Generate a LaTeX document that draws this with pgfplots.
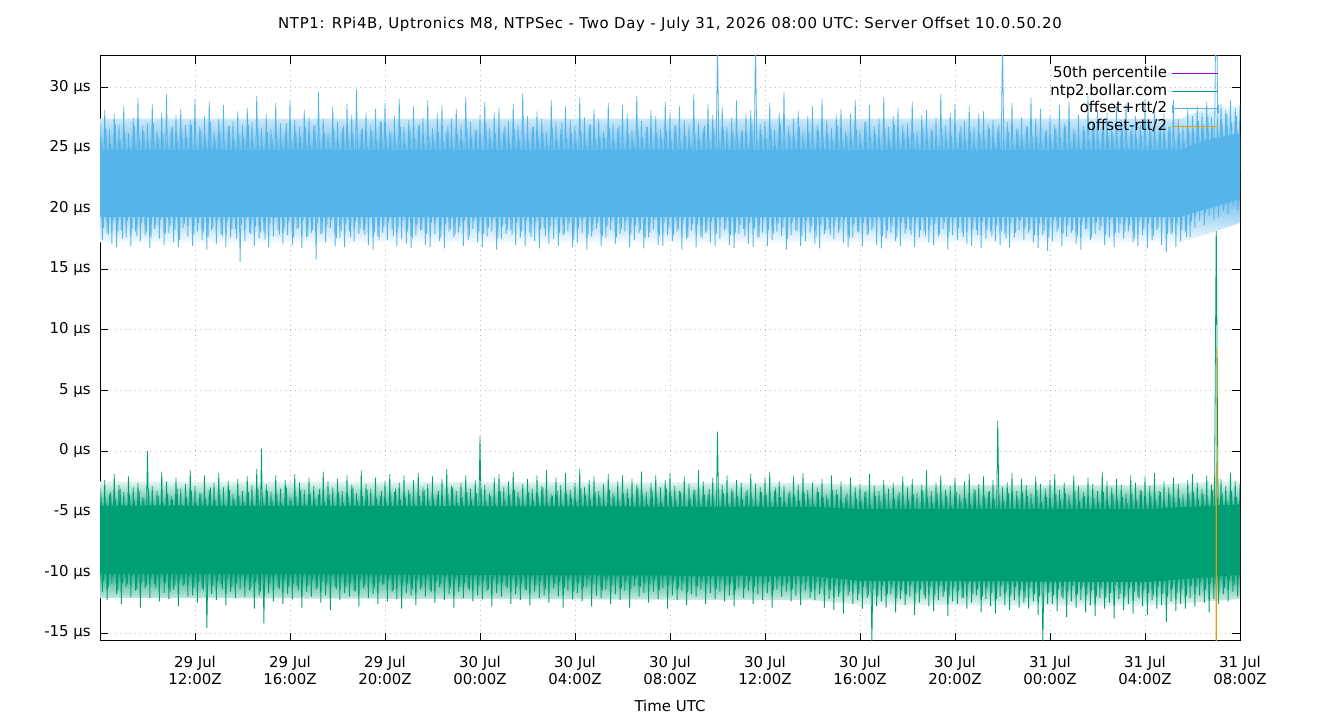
\documentclass[border=0pt]{standalone}
\usepackage{pgfplots}
\usepackage{pgfplotstable}
\pgfplotsset{compat=1.18}
\usepackage{fontspec}
\setmainfont{DejaVu Sans}

\definecolor{gpPurple}{RGB}{148,0,211}
\definecolor{gpGreen}{RGB}{0,158,115}
\definecolor{gpBlue}{RGB}{86,180,233}
\definecolor{gpOrange}{RGB}{230,159,0}

% legend sample with end caps, as for an error-bar series
\pgfplotsset{capsample/.style={legend image code/.code={
    \draw[gpBlue, line width=0.8bp] (0bp,0bp) -- (46bp,0bp);
    \draw[gpBlue, line width=0.8bp] (0bp,-4bp) -- (0bp,4bp);
    \draw[gpBlue, line width=0.8bp] (46bp,-4bp) -- (46bp,4bp);}}}

% offset+rtt/2 (us), samples every 6 minutes from 29 Jul 08:00Z
\pgfplotstableread[row sep=\\, header=false]{
27.2\\17.4\\28.1\\18.0\\26.5\\17.1\\27.8\\16.8\\26.9\\18.2\\
28.4\\17.6\\26.2\\16.9\\27.5\\18.1\\29.1\\17.3\\26.8\\17.8\\
27.0\\16.7\\28.6\\18.3\\26.4\\17.5\\27.9\\17.0\\29.4\\18.0\\
26.6\\17.2\\27.7\\16.8\\28.2\\18.4\\26.9\\17.7\\27.3\\16.9\\
29.0\\18.1\\26.7\\17.4\\27.6\\16.6\\28.8\\18.2\\26.3\\17.1\\
27.4\\17.9\\28.5\\16.8\\26.8\\17.6\\27.2\\18.3\\28.0\\15.6\\
26.9\\17.3\\28.3\\18.0\\27.1\\16.9\\29.3\\17.5\\26.6\\18.1\\
27.8\\16.8\\26.5\\17.7\\28.7\\18.2\\27.0\\17.1\\26.4\\17.8\\
28.9\\17.0\\27.3\\18.3\\26.7\\16.7\\28.1\\17.6\\27.5\\18.0\\
26.8\\15.8\\29.6\\17.9\\27.4\\17.2\\26.2\\18.4\\28.4\\16.9\\
27.1\\17.6\\26.6\\16.8\\28.6\\18.1\\27.7\\17.3\\29.8\\17.9\\
26.5\\18.2\\27.9\\17.0\\26.9\\16.6\\28.2\\17.7\\27.2\\18.0\\
28.7\\17.4\\26.4\\18.3\\27.6\\16.9\\29.0\\17.5\\26.7\\17.1\\
27.3\\16.7\\28.4\\17.8\\26.8\\18.2\\27.5\\17.0\\28.9\\16.8\\
26.6\\17.9\\27.8\\17.3\\28.5\\16.7\\26.3\\18.1\\27.4\\17.6\\
28.2\\18.0\\26.9\\16.9\\29.2\\17.4\\27.1\\18.3\\26.5\\17.2\\
27.7\\16.8\\28.8\\17.7\\26.6\\18.1\\27.9\\16.6\\28.3\\17.5\\
26.4\\17.9\\27.2\\18.2\\28.6\\17.0\\26.8\\17.6\\29.5\\16.9\\
27.6\\18.0\\26.7\\17.3\\28.0\\16.7\\27.4\\18.4\\26.2\\17.1\\
28.9\\17.5\\27.1\\16.9\\26.5\\17.8\\28.4\\18.1\\27.3\\16.8\\
26.8\\17.2\\29.1\\18.0\\27.5\\16.6\\26.9\\17.7\\28.2\\18.3\\
27.4\\16.9\\26.3\\17.6\\28.7\\18.2\\27.0\\17.1\\26.6\\17.9\\
28.5\\18.1\\27.8\\16.8\\26.4\\17.4\\29.3\\18.0\\27.2\\16.7\\
26.7\\17.6\\28.1\\18.3\\27.6\\17.0\\26.5\\16.9\\28.8\\17.8\\
27.9\\17.3\\26.8\\18.1\\28.4\\16.6\\27.3\\17.5\\26.9\\18.2\\
29.4\\16.8\\27.0\\17.7\\26.6\\18.0\\28.6\\17.2\\27.7\\16.9\\
34.0\\17.5\\28.3\\18.2\\26.7\\17.0\\27.5\\16.7\\28.9\\17.9\\
26.4\\18.3\\27.8\\17.1\\28.1\\16.8\\34.0\\17.6\\26.9\\18.0\\
27.2\\16.9\\28.7\\17.4\\26.5\\18.1\\27.9\\17.7\\29.6\\16.6\\
26.8\\17.8\\27.4\\18.2\\28.0\\16.9\\26.3\\17.3\\27.6\\18.0\\
28.4\\17.1\\26.9\\16.7\\29.0\\17.9\\27.3\\18.3\\26.6\\17.5\\
27.7\\18.0\\28.2\\17.2\\26.4\\16.8\\27.8\\17.6\\28.9\\18.1\\
26.5\\16.9\\27.1\\17.8\\28.5\\18.2\\26.8\\17.0\\27.4\\16.7\\
29.2\\17.5\\26.7\\18.0\\27.6\\17.3\\28.3\\16.9\\26.9\\17.9\\
27.0\\18.2\\28.8\\16.8\\26.4\\17.6\\27.7\\18.1\\28.1\\17.2\\
26.6\\17.0\\27.5\\17.7\\29.4\\18.3\\26.8\\16.6\\27.9\\17.8\\
28.6\\17.4\\26.3\\18.0\\27.2\\17.1\\28.4\\16.9\\26.7\\18.2\\
27.8\\16.7\\28.0\\17.5\\26.9\\18.1\\27.3\\17.3\\26.5\\17.0\\
34.0\\17.9\\27.1\\16.8\\28.7\\17.6\\26.6\\18.2\\27.5\\17.4\\
26.8\\18.0\\29.1\\17.2\\27.4\\16.7\\28.2\\17.8\\26.4\\16.5\\
27.6\\17.3\\26.9\\18.1\\28.5\\16.9\\27.0\\17.7\\28.8\\18.0\\
26.5\\17.1\\27.7\\16.6\\26.8\\18.3\\29.3\\17.4\\27.2\\17.9\\
28.1\\18.2\\26.6\\17.0\\27.9\\17.6\\26.7\\16.8\\28.4\\18.0\\
27.3\\17.5\\28.6\\18.1\\26.4\\17.2\\27.6\\16.9\\26.9\\17.8\\
29.0\\16.7\\27.1\\17.4\\28.3\\18.2\\26.5\\17.0\\27.8\\16.4\\
26.7\\17.9\\28.9\\16.8\\27.4\\17.3\\26.8\\18.1\\28.2\\17.6\\
27.6\\18.4\\28.4\\19.0\\27.9\\18.6\\28.8\\19.4\\27.5\\19.1\\
40.0\\19.3\\28.6\\19.8\\28.1\\19.5\\28.9\\20.2\\28.3\\19.9\\
28.5\\
}\blueA

% offset+rtt/2 (us), samples 3 minutes later
\pgfplotstableread[row sep=\\, header=false]{
25.9\\18.4\\26.6\\17.8\\25.3\\18.9\\26.9\\18.1\\25.6\\17.5\\
26.2\\19.0\\25.1\\18.3\\26.8\\17.7\\25.7\\18.8\\26.4\\18.0\\
25.4\\17.6\\27.0\\18.6\\25.8\\19.1\\26.1\\17.9\\25.2\\18.5\\
26.7\\18.2\\25.5\\17.4\\26.3\\18.7\\25.9\\19.2\\26.9\\17.8\\
25.0\\18.8\\26.5\\18.0\\25.7\\17.6\\27.1\\18.4\\25.6\\19.0\\
26.4\\17.7\\25.2\\18.9\\26.8\\18.2\\25.5\\17.5\\26.1\\18.6\\
25.8\\19.1\\26.9\\17.9\\25.3\\18.5\\26.6\\18.0\\25.1\\17.4\\
26.3\\18.7\\25.7\\19.2\\26.0\\17.8\\25.4\\18.3\\27.0\\18.9\\
25.6\\17.6\\26.4\\18.4\\25.9\\19.0\\26.7\\17.7\\25.2\\18.2\\
26.9\\18.8\\25.5\\17.9\\26.2\\18.6\\25.0\\19.1\\26.5\\17.5\\
25.3\\18.1\\26.8\\18.7\\25.7\\17.6\\26.1\\18.9\\25.8\\18.3\\
26.6\\17.8\\25.1\\19.2\\26.4\\18.0\\25.6\\17.4\\27.1\\18.5\\
25.9\\18.9\\26.2\\17.7\\25.4\\18.4\\26.7\\19.0\\25.2\\18.1\\
26.5\\17.5\\25.8\\18.6\\26.9\\18.2\\25.3\\17.9\\26.0\\18.8\\
25.7\\19.1\\26.3\\17.6\\25.5\\18.7\\26.8\\18.3\\25.1\\17.8\\
26.1\\18.5\\25.6\\19.0\\26.6\\17.7\\25.9\\18.9\\26.4\\18.0\\
25.2\\17.9\\27.0\\18.4\\25.8\\19.2\\26.2\\17.5\\25.5\\18.6\\
26.8\\18.2\\25.3\\17.8\\26.5\\18.8\\25.7\\18.1\\26.0\\19.0\\
25.4\\17.6\\26.7\\18.9\\25.9\\18.3\\26.3\\17.7\\25.1\\18.5\\
26.6\\19.1\\25.6\\18.0\\27.1\\17.9\\25.8\\18.7\\26.2\\17.4\\
25.5\\18.4\\26.4\\19.2\\25.2\\17.8\\26.9\\18.1\\25.7\\18.8\\
26.0\\17.7\\25.8\\18.5\\26.6\\19.0\\25.4\\17.6\\26.8\\18.3\\
25.3\\18.9\\26.1\\17.9\\25.6\\18.6\\26.5\\18.2\\25.9\\17.5\\
26.7\\18.0\\25.0\\19.1\\26.3\\17.7\\25.8\\18.8\\26.4\\18.4\\
25.6\\17.8\\26.9\\18.3\\25.4\\19.0\\26.0\\17.6\\25.2\\18.7\\
26.2\\18.6\\25.7\\17.5\\26.8\\18.1\\25.5\\18.9\\26.6\\17.9\\
25.8\\19.2\\26.5\\18.4\\25.1\\17.8\\26.3\\18.0\\25.9\\18.6\\
26.4\\17.7\\25.3\\18.8\\27.0\\18.3\\25.6\\17.6\\26.1\\19.1\\
25.7\\18.2\\26.6\\17.9\\25.2\\18.7\\26.9\\18.4\\25.5\\17.5\\
26.0\\18.9\\25.8\\18.1\\26.7\\17.7\\25.4\\19.0\\26.3\\18.5\\
25.1\\17.6\\26.4\\18.6\\25.9\\18.2\\26.2\\17.8\\25.6\\18.9\\
26.8\\18.3\\25.5\\19.1\\26.0\\17.5\\25.7\\18.7\\26.5\\18.0\\
25.3\\18.8\\27.1\\17.9\\25.8\\18.4\\26.1\\19.2\\25.2\\17.7\\
26.6\\18.1\\25.6\\18.5\\26.9\\17.6\\25.4\\18.9\\26.3\\18.3\\
25.9\\17.8\\26.2\\19.0\\25.3\\18.2\\26.7\\17.7\\25.7\\18.6\\
26.4\\18.7\\25.1\\17.9\\26.5\\18.8\\25.8\\18.0\\26.0\\19.1\\
25.5\\18.4\\26.8\\17.6\\25.6\\19.2\\26.2\\18.3\\25.0\\17.8\\
26.1\\18.9\\25.7\\18.2\\26.6\\17.7\\25.4\\18.6\\26.9\\18.1\\
25.8\\17.5\\26.3\\18.8\\25.2\\18.0\\26.5\\19.0\\25.6\\18.4\\
26.7\\18.2\\25.9\\17.8\\26.0\\18.7\\25.3\\18.1\\26.4\\17.6\\
25.4\\19.0\\26.6\\18.4\\25.8\\17.9\\26.8\\18.6\\25.5\\18.2\\
26.2\\17.7\\25.1\\18.9\\26.4\\18.3\\25.7\\17.6\\27.0\\18.8\\
25.6\\18.5\\26.9\\17.8\\25.9\\19.1\\26.1\\18.0\\25.3\\18.7\\
26.5\\18.1\\25.4\\18.6\\26.7\\17.5\\25.8\\18.9\\26.0\\18.3\\
25.2\\18.8\\26.3\\17.7\\25.7\\18.4\\26.6\\19.2\\25.5\\17.9\\
26.8\\18.0\\25.6\\18.7\\26.2\\18.2\\25.4\\17.6\\26.4\\18.9\\
26.6\\19.6\\27.2\\20.1\\26.9\\19.7\\27.6\\20.4\\26.8\\20.0\\
27.4\\20.6\\26.9\\20.2\\27.8\\20.8\\27.1\\20.5\\27.6\\21.0\\
27.2\\
}\blueB

% ntp2.bollar.com offset (us), samples every 6 minutes from 29 Jul 08:00Z
\pgfplotstableread[row sep=\\, header=false]{
-3.1\\-11.6\\-2.4\\-12.3\\-3.6\\-10.9\\-1.9\\-11.8\\-2.8\\-12.6\\
-3.4\\-11.2\\-2.1\\-12.0\\-3.0\\-11.5\\-2.6\\-12.9\\-3.8\\-11.3\\
0.0\\-12.1\\-2.9\\-11.0\\-3.3\\-12.4\\-1.7\\-11.7\\-2.5\\-12.2\\
-3.7\\-11.4\\-2.2\\-12.8\\-3.1\\-11.1\\-2.7\\-12.0\\-1.6\\-11.9\\
-2.9\\-12.5\\-3.5\\-11.3\\-2.0\\-14.6\\-3.2\\-11.8\\-2.6\\-12.3\\
-1.8\\-11.0\\-3.0\\-12.7\\-2.5\\-11.6\\-3.6\\-12.1\\-2.3\\-11.4\\
-3.3\\-12.0\\-2.1\\-11.5\\-2.8\\-13.0\\-1.5\\-11.9\\0.2\\-14.2\\
-2.7\\-11.7\\-3.4\\-12.4\\-2.0\\-11.2\\-3.1\\-12.6\\-2.4\\-11.8\\
-3.8\\-12.2\\-1.9\\-11.1\\-2.6\\-12.9\\-3.2\\-11.6\\-2.2\\-12.0\\
-2.9\\-11.4\\-3.6\\-12.5\\-1.7\\-11.9\\-2.5\\-13.1\\-3.0\\-11.2\\
-2.3\\-12.3\\-3.3\\-11.7\\-2.0\\-12.0\\-2.8\\-11.5\\-3.5\\-12.8\\
-1.6\\-11.3\\-2.7\\-12.1\\-3.1\\-11.8\\-2.2\\-12.6\\-3.7\\-11.0\\
-2.5\\-12.4\\-1.9\\-11.6\\-3.4\\-12.2\\-2.6\\-13.0\\-2.0\\-11.7\\
-3.2\\-11.9\\-2.4\\-12.7\\-1.8\\-11.4\\-3.0\\-12.0\\-2.7\\-11.5\\
-2.1\\-12.5\\-3.6\\-11.2\\-2.3\\-12.3\\-1.5\\-11.8\\-2.9\\-12.9\\
-3.3\\-11.6\\-2.6\\-12.1\\-2.0\\-11.3\\-3.1\\-12.4\\-2.4\\-11.9\\
1.2\\-12.2\\-2.8\\-11.5\\-3.5\\-12.8\\-2.2\\-11.7\\-1.9\\-12.0\\
-3.0\\-11.1\\-2.5\\-12.6\\-1.7\\-11.8\\-3.4\\-12.3\\-2.7\\-11.4\\
-2.3\\-12.7\\-3.1\\-11.6\\-2.0\\-12.1\\-2.9\\-11.9\\-1.6\\-12.5\\
-3.6\\-11.3\\-2.2\\-12.0\\-2.8\\-12.9\\-1.8\\-11.5\\-3.2\\-12.2\\
-2.6\\-11.7\\-1.5\\-12.4\\-3.0\\-11.2\\-2.4\\-12.8\\-2.1\\-11.9\\
-3.3\\-12.1\\-2.7\\-11.4\\-1.9\\-12.6\\-3.5\\-11.8\\-2.5\\-12.3\\
-2.0\\-11.5\\-3.1\\-12.9\\-2.3\\-11.1\\-2.8\\-12.0\\-1.7\\-11.7\\
-3.4\\-12.5\\-2.6\\-11.6\\-2.0\\-12.2\\-3.0\\-11.3\\-2.4\\-13.0\\
-1.8\\-11.9\\-2.9\\-12.3\\-3.3\\-11.5\\-2.1\\-12.7\\-2.7\\-11.8\\
-3.2\\-12.0\\-1.6\\-11.4\\-2.5\\-12.6\\-3.6\\-11.7\\-2.2\\-12.2\\
1.6\\-11.6\\-2.8\\-12.4\\-2.0\\-11.9\\-3.1\\-12.8\\-2.4\\-11.3\\
-2.6\\-12.1\\-3.4\\-11.5\\-1.9\\-12.6\\-2.7\\-11.8\\-3.0\\-12.3\\
-2.2\\-11.7\\-1.7\\-12.9\\-3.3\\-11.4\\-2.5\\-12.0\\-2.9\\-11.6\\
-3.5\\-12.4\\-2.1\\-11.9\\-2.8\\-12.7\\-1.8\\-11.5\\-3.2\\-12.1\\
-2.6\\-12.3\\-3.0\\-11.8\\-2.3\\-12.9\\-3.6\\-12.2\\-2.0\\-13.1\\
-3.2\\-12.0\\-2.5\\-13.4\\-3.8\\-11.9\\-2.2\\-12.6\\-3.0\\-12.3\\
-2.7\\-13.0\\-3.4\\-12.1\\-1.9\\-15.9\\-2.9\\-12.8\\-3.3\\-12.4\\
-2.4\\-12.9\\-3.1\\-11.8\\-2.6\\-13.3\\-3.7\\-12.2\\-2.1\\-12.7\\
-3.0\\-12.0\\-2.3\\-13.5\\-3.5\\-12.5\\-2.8\\-11.9\\-1.6\\-12.8\\
-3.3\\-13.2\\-2.6\\-12.3\\-2.0\\-12.0\\-3.2\\-13.6\\-2.9\\-12.4\\
-2.2\\-12.6\\-3.6\\-12.1\\-2.5\\-13.0\\-1.9\\-12.5\\-3.1\\-11.9\\
-2.7\\-13.3\\-2.1\\-12.2\\-3.4\\-12.8\\-2.4\\-13.4\\2.5\\-12.0\\
-3.0\\-12.7\\-2.6\\-13.1\\-1.8\\-12.3\\-3.3\\-12.9\\-2.3\\-12.5\\
-2.8\\-13.0\\-3.5\\-12.4\\-2.1\\-13.5\\-2.7\\-15.9\\-3.1\\-12.6\\
-2.4\\-12.6\\-1.9\\-13.2\\-3.2\\-12.0\\-2.6\\-13.7\\-3.6\\-12.4\\
-2.0\\-12.9\\-2.9\\-12.3\\-3.4\\-13.3\\-2.2\\-12.7\\-2.7\\-13.6\\
-3.3\\-12.1\\-1.7\\-13.0\\-2.5\\-12.5\\-3.0\\-13.8\\-2.3\\-12.2\\
-2.8\\-13.1\\-3.5\\-12.6\\-2.0\\-13.4\\-2.6\\-12.0\\-3.2\\-12.8\\
-2.1\\-13.5\\-2.9\\-12.3\\-1.8\\-13.0\\-3.3\\-12.7\\-2.5\\-14.1\\
-3.0\\-12.4\\-2.2\\-13.2\\-2.7\\-12.6\\-3.6\\-13.0\\-2.4\\-12.1\\
-1.9\\-12.8\\-2.6\\-11.9\\-3.1\\-12.5\\-2.0\\-13.3\\-2.8\\-12.2\\
19.0\\-12.6\\-2.3\\-11.8\\-2.9\\-12.4\\-1.8\\-11.6\\-2.5\\-12.0\\
-2.7\\
}\greenA

% ntp2.bollar.com offset (us), samples 3 minutes later
\pgfplotstableread[row sep=\\, header=false]{
-3.8\\-10.7\\-4.3\\-11.2\\-3.4\\-10.4\\-4.0\\-11.5\\-3.1\\-10.9\\
-4.5\\-11.0\\-3.6\\-10.3\\-4.1\\-11.4\\-3.3\\-10.8\\-3.9\\-11.1\\
-3.2\\-10.5\\-4.4\\-11.3\\-3.7\\-10.1\\-4.2\\-10.9\\-3.5\\-11.6\\
-4.0\\-11.1\\-3.1\\-10.6\\-4.6\\-11.0\\-3.8\\-10.4\\-3.3\\-11.3\\
-4.3\\-10.8\\-3.5\\-11.5\\-3.9\\-10.2\\-3.0\\-11.1\\-4.1\\-10.7\\
-3.6\\-11.4\\-4.4\\-10.5\\-3.2\\-11.2\\-4.0\\-10.9\\-3.7\\-10.3\\
-4.2\\-10.6\\-3.4\\-11.3\\-4.5\\-10.8\\-3.1\\-11.6\\-3.8\\-10.4\\
-3.3\\-11.0\\-4.1\\-10.2\\-3.6\\-11.4\\-4.3\\-10.7\\-3.0\\-11.2\\
-4.0\\-10.9\\-3.7\\-11.5\\-3.2\\-10.4\\-4.4\\-11.1\\-3.5\\-10.6\\
-3.9\\-11.3\\-3.1\\-10.8\\-4.2\\-11.0\\-3.6\\-10.3\\-4.6\\-11.4\\
-3.4\\-10.5\\-4.3\\-11.2\\-3.8\\-10.9\\-3.0\\-11.6\\-4.1\\-10.7\\
-3.7\\-11.1\\-3.2\\-10.4\\-4.5\\-11.3\\-3.9\\-10.8\\-3.3\\-11.0\\
-4.2\\-10.6\\-3.6\\-11.5\\-3.1\\-10.2\\-4.0\\-11.1\\-3.8\\-10.9\\
-3.5\\-11.4\\-4.4\\-10.7\\-3.7\\-11.2\\-3.2\\-10.5\\-4.1\\-11.6\\
-3.9\\-10.8\\-3.3\\-11.0\\-4.6\\-10.4\\-3.6\\-11.3\\-3.0\\-10.6\\
-4.3\\-11.2\\-3.8\\-10.9\\-3.4\\-11.5\\-4.0\\-10.3\\-3.5\\-11.1\\
-3.1\\-10.7\\-4.2\\-11.4\\-3.7\\-10.6\\-4.4\\-11.0\\-3.3\\-10.8\\
-4.0\\-11.3\\-3.6\\-10.5\\-3.2\\-11.2\\-3.9\\-10.9\\-4.5\\-11.5\\
-3.4\\-10.4\\-4.1\\-11.1\\-3.8\\-10.7\\-3.0\\-11.4\\-4.3\\-10.2\\
-3.7\\-11.0\\-3.3\\-10.8\\-4.4\\-11.3\\-3.5\\-10.5\\-3.9\\-11.6\\
-4.2\\-10.9\\-3.1\\-11.2\\-3.6\\-10.6\\-4.0\\-11.0\\-3.4\\-10.3\\
-3.8\\-11.5\\-4.5\\-10.7\\-3.2\\-11.1\\-3.7\\-10.4\\-4.1\\-11.3\\
-3.5\\-10.8\\-3.9\\-11.4\\-4.3\\-10.5\\-3.0\\-11.2\\-3.6\\-10.9\\
-4.4\\-11.0\\-3.3\\-10.6\\-3.8\\-11.5\\-4.2\\-10.3\\-3.1\\-11.1\\
-3.7\\-10.7\\-4.0\\-11.3\\-3.4\\-10.9\\-4.6\\-11.6\\-3.9\\-10.4\\
-3.2\\-11.2\\-4.3\\-10.8\\-3.6\\-11.0\\-3.1\\-10.5\\-4.1\\-11.4\\
-3.8\\-10.6\\-3.5\\-11.1\\-4.4\\-10.9\\-3.3\\-11.5\\-3.7\\-10.2\\
-4.0\\-11.3\\-3.2\\-10.7\\-3.9\\-11.2\\-4.5\\-10.4\\-3.4\\-11.0\\
-3.6\\-10.8\\-4.2\\-11.5\\-3.0\\-10.6\\-3.8\\-11.1\\-4.3\\-10.9\\
-3.3\\-11.4\\-3.7\\-10.3\\-4.1\\-11.0\\-3.5\\-10.8\\-3.9\\-11.6\\
-4.4\\-10.9\\-3.4\\-11.3\\-3.8\\-10.7\\-4.0\\-11.5\\-3.2\\-11.1\\
-3.6\\-11.7\\-4.3\\-11.0\\-3.5\\-11.6\\-4.6\\-10.9\\-3.9\\-11.8\\
-4.1\\-11.2\\-3.3\\-11.9\\-4.5\\-11.4\\-3.7\\-12.0\\-4.2\\-11.1\\
-3.5\\-11.8\\-4.7\\-11.3\\-3.9\\-12.1\\-3.4\\-11.5\\-4.4\\-11.9\\
-4.0\\-11.0\\-3.6\\-11.7\\-4.8\\-11.4\\-3.3\\-12.2\\-3.8\\-11.2\\
-4.3\\-11.9\\-3.5\\-11.1\\-4.1\\-11.6\\-3.7\\-12.0\\-4.6\\-11.3\\
-3.4\\-11.5\\-4.2\\-12.1\\-3.9\\-11.0\\-4.4\\-11.8\\-3.2\\-11.4\\
-4.5\\-12.0\\-3.8\\-11.3\\-3.3\\-11.7\\-4.0\\-12.2\\-3.6\\-11.1\\
-4.1\\-11.6\\-3.5\\-11.9\\-4.7\\-11.2\\-3.9\\-11.5\\-3.4\\-12.1\\
-3.7\\-11.3\\-4.4\\-11.8\\-3.2\\-12.0\\-4.2\\-11.0\\-3.8\\-11.7\\
-4.6\\-11.9\\-3.6\\-11.4\\-4.0\\-12.2\\-3.5\\-11.6\\-4.3\\-11.1\\
-3.3\\-11.8\\-4.1\\-11.2\\-3.7\\-11.9\\-4.8\\-11.5\\-3.9\\-12.0\\
-4.2\\-11.4\\-3.4\\-12.1\\-4.5\\-11.7\\-3.6\\-11.1\\-4.0\\-11.8\\
-3.8\\-12.0\\-4.3\\-11.3\\-3.5\\-11.6\\-4.1\\-12.2\\-3.3\\-11.5\\
-4.4\\-11.7\\-3.7\\-11.9\\-4.0\\-11.2\\-3.4\\-11.8\\-4.6\\-12.0\\
-3.6\\-11.3\\-4.2\\-11.7\\-3.9\\-11.4\\-4.5\\-11.9\\-3.5\\-11.1\\
-3.4\\-11.2\\-4.0\\-10.8\\-3.6\\-11.4\\-4.3\\-10.9\\-3.2\\-11.0\\
-3.9\\-10.6\\-3.5\\-11.3\\-4.1\\-10.7\\-3.3\\-11.1\\-3.8\\-10.5\\
-3.6\\
}\greenB

\newcommand{\lbl}{\fontsize{15}{18}\selectfont}

\begin{document}
\begin{tikzpicture}
\path[use as bounding box] (0,0) rectangle (1340bp,720bp);
\begin{axis}[
  at={(100bp,79bp)}, anchor=south west,
  scale only axis, width=1140bp, height=585bp,
  xmin=0, xmax=48, ymin=-15.66, ymax=32.56,
  axis line style={line width=1bp},
  tick align=inside, major tick length=8bp,
  every tick/.style={black, line width=0.8bp},
  grid=major,
  major grid style={gray!55, line width=0.7bp, dash pattern=on 0.8bp off 4.2bp},
  xtick={4,8,...,48},
  xticklabels={{29 Jul\\12:00Z},{29 Jul\\16:00Z},{29 Jul\\20:00Z},
    {30 Jul\\00:00Z},{30 Jul\\04:00Z},{30 Jul\\08:00Z},{30 Jul\\12:00Z},
    {30 Jul\\16:00Z},{30 Jul\\20:00Z},{31 Jul\\00:00Z},{31 Jul\\04:00Z},
    {31 Jul\\08:00Z}},
  xticklabel style={font=\lbl, align=center, anchor=north, inner sep=0pt, yshift=-14.5bp},
  ytick={-15,-10,...,30},
  yticklabels={{-15 µs},{-10 µs},{-5 µs},{0 µs},{5 µs},{10 µs},{15 µs},{20 µs},{25 µs},{30 µs}},
  yticklabel style={font=\lbl, anchor=east, inner sep=0pt, xshift=-9bp},
  xlabel={Time UTC},
  xlabel style={font=\lbl, at={(axis description cs:0.5,0)}, anchor=base, yshift=-71bp},
  title={\addfontfeature{LetterSpace=4.4}NTP1: RPi4B, Uptronics M8, NTPSec - Two Day - July 31, 2026 08:00 UTC: Server Offset 10.0.50.20},
  title style={font=\lbl, at={(axis description cs:0.5,1)}, anchor=base, yshift=21.5bp},
  legend cell align=right, legend plot pos=right,
  legend style={draw=none, fill=none, at={(0.9816,0.986)}, anchor=north east,
    font=\lbl, inner sep=0pt, row sep=0pt,
    nodes={text height=11.4bp, text depth=3.5bp, inner ysep=1.45bp, inner xsep=5bp}},
  legend image code/.code={\draw[#1, line width=0.8bp] (0bp,0bp) -- (46bp,0bp);},
  line join=bevel,
]
% median of the offset, hidden under the samples
\addplot[gpPurple, line width=0.8bp] coordinates {(0,-7.9) (48,-7.9)};
\addlegendentry{50th percentile}

% thinning fringes and dense body of the offset samples
\addplot[draw=none, forget plot, top color=gpGreen!6!white, bottom color=gpGreen!92!white] coordinates {
 (0,-4.9) (30,-5.0) (32,-5.2) (44,-5.2) (46,-5.0) (48,-4.8)
 (48,-2.4) (46,-2.6) (44,-2.8) (32,-2.8) (30,-2.6) (0,-2.5)};
\addplot[draw=none, forget plot, top color=gpGreen!92!white, bottom color=gpGreen!6!white] coordinates {
 (0,-9.7) (30,-9.9) (32,-10.3) (44,-10.4) (46,-10.1) (48,-9.8)
 (48,-12.2) (46,-12.5) (44,-12.8) (32,-12.7) (30,-12.3) (0,-12.1)};
\addplot[fill=gpGreen, draw=none, forget plot] coordinates {
 (0,-4.5) (30,-4.6) (32,-4.8) (44,-4.8) (46,-4.6) (48,-4.4)
 (48,-10.2) (46,-10.5) (44,-10.8) (32,-10.7) (30,-10.3) (0,-10.1)};
\addplot[gpGreen, line width=0.8bp, forget plot] table[x expr=\coordindex/10+0.05, y index=0] {\greenB};
\addplot[gpGreen, line width=0.8bp] table[x expr=\coordindex/10, y index=0] {\greenA};
\addlegendentry{ntp2.bollar.com}

% thinning fringes and dense body of offset+rtt/2
\addplot[draw=none, forget plot, top color=gpBlue!6!white, bottom color=gpBlue!92!white] coordinates {
 (0,24.4) (45.5,24.4) (46.5,25.2) (48,25.8)
 (48,28.6) (46.5,28.2) (45.5,27.4) (0,27.4)};
\addplot[draw=none, forget plot, top color=gpBlue!92!white, bottom color=gpBlue!6!white] coordinates {
 (0,19.7) (45.5,19.7) (46.5,20.3) (48,21.2)
 (48,18.8) (46.5,17.8) (45.5,17.2) (0,17.2)};
\addplot[fill=gpBlue, draw=none, forget plot] coordinates {
 (0,24.8) (45.5,24.8) (46.5,25.6) (48,26.2)
 (48,20.8) (46.5,19.9) (45.5,19.3) (0,19.3)};
\addplot[gpBlue, line width=0.8bp, forget plot] table[x expr=\coordindex/10+0.05, y index=0] {\blueB};
\addplot[gpBlue, line width=0.8bp, capsample]
  table[x expr=\coordindex/10, y index=0] {\blueA};
\addlegendentry{offset+rtt/2}

% offset-rtt/2 lies below the plotted range except for one sample
\addplot[gpOrange, line width=0.8bp] coordinates {
 (0,-38) (46.98,-38) (47.0,8.5) (47.02,-38) (48,-38)};
\addlegendentry{offset-rtt/2}
\end{axis}
\end{tikzpicture}
\end{document}
